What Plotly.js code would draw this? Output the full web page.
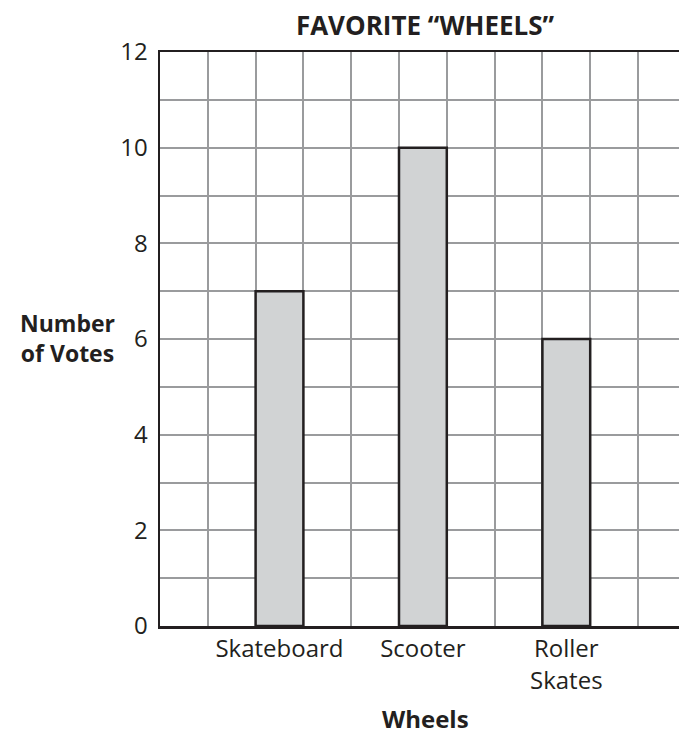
<!DOCTYPE html>
<html>
<head>
<meta charset="utf-8">
<script src="https://cdn.plot.ly/plotly-3.0.1.min.js"></script>
<style>html,body{margin:0;padding:0;background:#fff;}#chart{width:679px;height:735px;}</style>
</head>
<body>
<div id="chart"></div>
<script>
const categories = ["Skateboard", "Scooter", "Roller Skates"];
const tickLabels = ["Skateboard", "Scooter", "Roller<br>Skates"];
const votes = [7, 10, 6];
const yTicks = [0, 2, 4, 6, 8, 10, 12];

const xPos = categories.map((c, i) => 2.5 + 3 * i);
const FONT = "Open Sans, Noto Sans, sans-serif";

const trace = {
  type: "bar",
  x: xPos,
  y: votes,
  width: 1,
  textposition: "none",
  hoverinfo: "y",
  marker: {color: "#d1d3d4", line: {color: "#231f20", width: 2.5}}
};

const layout = {
  width: 679, height: 735,
  margin: {l: 160, r: 0, t: 52, b: 109},
  paper_bgcolor: "#fff", plot_bgcolor: "#fff",
  showlegend: false,
  font: {family: FONT, color: "#231f20"},
  title: {text: "<b>FAVORITE “WHEELS”</b>", font: {size: 26, family: FONT, color: "#231f20"},
          x: 425 / 679, xanchor: "center", y: 1 - 26 / 735, yanchor: "middle"},
  xaxis: {
    range: [0, 519 / 47.8], fixedrange: true,
    tickmode: "array", tickvals: xPos, ticktext: tickLabels,
    tickfont: {size: 24, family: FONT, color: "#231f20"},
    ticks: "", showgrid: false, zeroline: false,
    showline: true, linecolor: "#231f20", linewidth: 2.5, mirror: true,
    minor: {tickmode: "linear", tick0: 0, dtick: 1, showgrid: true, gridcolor: "#9a9b9d", gridwidth: 2, ticks: ""},
    title: {text: ""}
  },
  yaxis: {
    range: [0, 12], fixedrange: true,
    tickmode: "array", tickvals: yTicks, ticktext: yTicks.map(String),
    tickfont: {size: 24, family: FONT, color: "#231f20"},
    ticks: "", ticklabelstandoff: 5,
    showgrid: true, gridcolor: "#9a9b9d", gridwidth: 2, zeroline: false,
    showline: true, linecolor: "#231f20", linewidth: 2.5, mirror: false,
    minor: {tickmode: "linear", tick0: 0, dtick: 1, showgrid: true, gridcolor: "#9a9b9d", gridwidth: 2, ticks: ""}
  },
  annotations: [{
    text: "<b>Number<br>of Votes</b>", xref: "paper", yref: "paper",
    x: -43 / 519, y: (626 - 338) / 574, xanchor: "right", yanchor: "middle",
    showarrow: false, align: "center",
    font: {size: 23, family: FONT, color: "#231f20"}
  }, {
    text: "<b>Wheels</b>", xref: "paper", yref: "paper",
    x: (425 - 160) / 519, y: -(719 - 626) / 574, xanchor: "center", yanchor: "middle",
    showarrow: false,
    font: {size: 24, family: FONT, color: "#231f20"}
  }]
};

Plotly.newPlot("chart", [trace], layout, {displayModeBar: false, staticPlot: true});
</script>
</body>
</html>
